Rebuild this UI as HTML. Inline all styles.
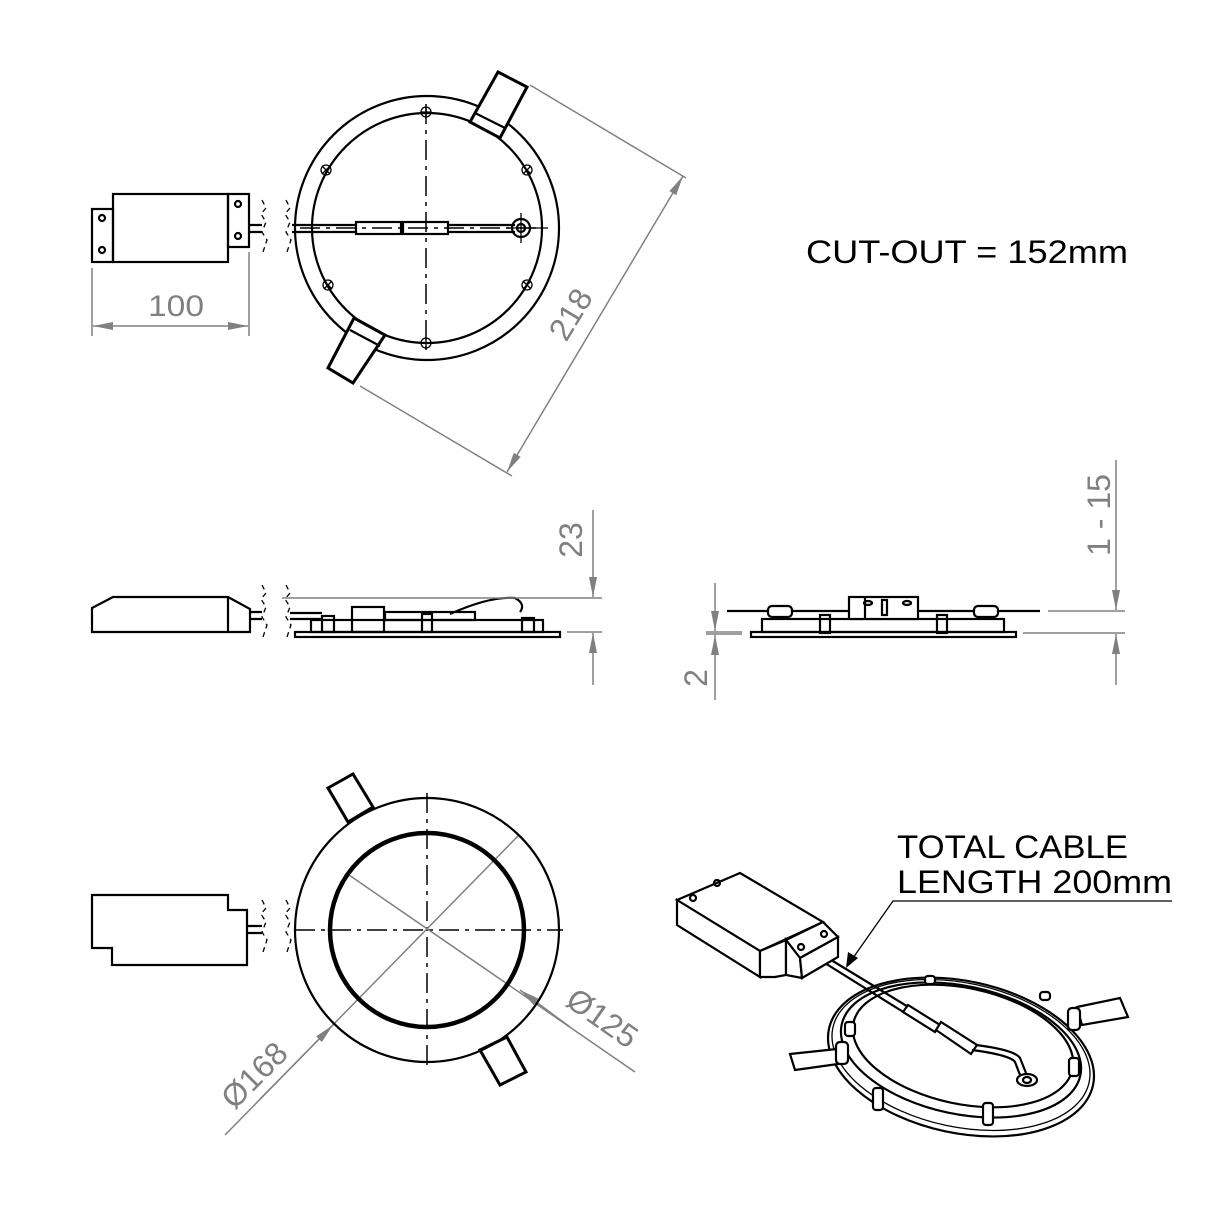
<!DOCTYPE html>
<html><head><meta charset="utf-8"><style>
html,body{margin:0;padding:0;background:#fff;}
svg{display:block}
.k{stroke:#000;fill:none;stroke-width:2.2}
.kf{stroke:#000;fill:#fff;stroke-width:2.2}
.t{stroke:#000;fill:none;stroke-width:1.3}
.g{stroke:#808080;fill:none;stroke-width:1.5}
.gt{fill:#808080;font-family:"Liberation Sans",sans-serif;font-weight:normal}
.bt{fill:#000;font-family:"Liberation Sans",sans-serif}
.d{stroke:#000;fill:none;stroke-width:1.5;stroke-dasharray:20 6 4 6}
</style></head><body>
<svg width="1220" height="1220" viewBox="0 0 1220 1220" xmlns="http://www.w3.org/2000/svg">
<defs>
<marker id="ar" viewBox="0 0 20 8" refX="20" refY="4" markerWidth="20" markerHeight="8" orient="auto" markerUnits="userSpaceOnUse"><path d="M0,0 L20,4 L0,8 z" fill="#808080"/></marker>
</defs>

<!-- ===== TOP VIEW ===== -->
<rect class="k" x="113" y="194" width="115" height="68"/>
<rect class="k" x="92" y="209" width="21" height="53"/>
<rect class="k" x="228" y="194" width="21" height="53"/>
<circle class="k" cx="102" cy="218" r="3"/><circle class="k" cx="102" cy="250" r="3"/>
<circle class="k" cx="238" cy="204" r="3"/><circle class="k" cx="238" cy="236" r="3"/>
<path class="k" d="M249,225 H262 M249,232 H262"/>
<path class="t" d="M262,200 l4,8 -5,6 5,8 -4,10 5,8 -4,12" stroke-dasharray="5 4"/>
<path class="t" d="M286,200 l4,8 -5,6 5,8 -4,10 5,8 -4,12" stroke-dasharray="5 4"/>
<path class="g" d="M92,268 V336 M249,252 V336"/>
<line class="g" x1="170" y1="326" x2="93" y2="326" marker-end="url(#ar)"/>
<line class="g" x1="170" y1="326" x2="248" y2="326" marker-end="url(#ar)"/>
<text class="gt" x="148" y="316" font-size="30" textLength="56" lengthAdjust="spacingAndGlyphs">100</text>

<circle class="k" cx="427" cy="228" r="132"/>
<circle class="k" cx="427" cy="228" r="115"/>
<line class="d" x1="426" y1="104" x2="426" y2="352"/>
<path class="k" d="M292,225 H356 M292,232 H356 M448,225 H515 M448,232 H515"/>
<rect class="k" x="356" y="222" width="45" height="12"/>
<rect class="k" x="403" y="222" width="45" height="12"/>
<line class="d" x1="300" y1="228" x2="540" y2="228"/>
<circle class="k" cx="521" cy="228" r="9"/><circle class="k" cx="521" cy="228" r="4"/>
<path class="t" d="M521,213 V243 M506,228 H548"/>
<g class="t">
<circle cx="426" cy="112" r="5"/><path d="M421,112 h10 M426,107 v10"/>
<circle cx="426" cy="343" r="5"/><path d="M421,343 h10 M426,338 v10"/>
<circle cx="326" cy="170" r="5"/><path d="M322,166 l8,8 M330,166 l-8,8"/>
<circle cx="527" cy="170" r="5"/><path d="M523,166 l8,8 M531,166 l-8,8"/>
<circle cx="328" cy="285" r="5"/><path d="M324,281 l8,8 M332,281 l-8,8"/>
<circle cx="527" cy="285" r="5"/><path d="M523,281 l8,8 M531,281 l-8,8"/>
</g>
<polygon class="kf" points="498,72 527,87 500,138 470,122" style="stroke-width:3"/>
<path class="k" d="M475,113 L505,128"/>
<polygon class="kf" points="354,318 385,335 353,383 328,368" style="stroke-width:3"/>
<path class="k" d="M350,330 L380,346"/>

<path class="g" d="M530,85 L686,178 M360,386 L512,476"/>
<line class="g" x1="595" y1="324" x2="683" y2="176" marker-end="url(#ar)"/>
<line class="g" x1="595" y1="324" x2="507" y2="472" marker-end="url(#ar)"/>
<text class="gt" font-size="32" text-anchor="middle" transform="translate(580,320) rotate(-59)">218</text>

<text class="bt" x="806" y="263" font-size="32" textLength="322" lengthAdjust="spacingAndGlyphs">CUT-OUT = 152mm</text>

<!-- ===== SIDE VIEW LEFT ===== -->
<polygon class="k" points="92,608 113,597 228,597 250,609 250,632 92,632"/>
<line class="k" x1="228" y1="597" x2="228" y2="632"/>
<path class="k" d="M250,612 H262 M250,619 H262"/>
<path class="t" d="M262,585 l4,8 -5,6 5,8 -4,10 5,8 -4,12" stroke-dasharray="5 4"/>
<path class="t" d="M286,585 l4,8 -5,6 5,8 -4,10 5,8 -4,12" stroke-dasharray="5 4"/>
<rect class="k" x="295" y="632" width="265" height="5"/>
<path class="k" d="M290,613 H322 M290,619 H322"/>
<rect class="k" x="311" y="620" width="232" height="12"/>
<rect class="k" x="322" y="616" width="12" height="16"/>
<rect class="k" x="352" y="607" width="32" height="25"/>
<rect class="k" x="385" y="612" width="90" height="8"/>
<rect class="k" x="422" y="614" width="10" height="18"/>
<path class="k" d="M450,614 Q490,596 515,598 Q526,604 520,612"/>
<rect class="k" x="522" y="618" width="12" height="14"/>
<path class="g" d="M282,598 H602 M567,632 H602"/>
<line class="g" x1="593" y1="510" x2="593" y2="597" marker-end="url(#ar)"/>
<line class="g" x1="593" y1="685" x2="593" y2="633" marker-end="url(#ar)"/>
<text class="gt" font-size="32" text-anchor="middle" transform="translate(582,540) rotate(-90)">23</text>

<!-- ===== SIDE VIEW RIGHT ===== -->
<rect class="k" x="751" y="632" width="265" height="5"/>
<rect class="k" x="762" y="619" width="242" height="13"/>
<path class="k" d="M727,611 H1040"/>
<rect class="kf" x="768" y="606" width="24" height="11" rx="4"/>
<rect class="kf" x="974" y="606" width="24" height="11" rx="4"/>
<rect class="kf" x="849" y="597" width="69" height="22"/>
<line class="k" x1="865" y1="597" x2="865" y2="619"/>
<ellipse class="k" cx="868" cy="603" rx="4" ry="2"/><ellipse class="k" cx="907" cy="603" rx="4" ry="2"/>
<rect class="k" x="882" y="600" width="5" height="15"/>
<rect class="k" x="820" y="615" width="10" height="18"/>
<rect class="k" x="937" y="615" width="10" height="18"/>
<path class="g" d="M1048,611 H1125 M1023,633 H1125"/>
<line class="g" x1="1116" y1="460" x2="1116" y2="610" marker-end="url(#ar)"/>
<line class="g" x1="1116" y1="685" x2="1116" y2="634" marker-end="url(#ar)"/>
<text class="gt" font-size="32" text-anchor="middle" transform="translate(1110,515) rotate(-90)">1 - 15</text>
<path class="g" d="M706,632 H742 M706,634 H742"/>
<line class="g" x1="715" y1="583" x2="715" y2="631" marker-end="url(#ar)"/>
<line class="g" x1="715" y1="700" x2="715" y2="635" marker-end="url(#ar)"/>
<text class="gt" font-size="32" text-anchor="middle" transform="translate(707,678) rotate(-90)">2</text>

<!-- ===== BOTTOM VIEW ===== -->
<polygon class="k" points="92,895 228,895 228,910 247,910 247,965 112,965 112,948 92,948"/>
<path class="k" d="M247,926 H262 M247,933 H262"/>
<path class="t" d="M262,900 l4,8 -5,6 5,8 -4,10 5,8 -4,12" stroke-dasharray="5 4"/>
<path class="t" d="M286,900 l4,8 -5,6 5,8 -4,10 5,8 -4,12" stroke-dasharray="5 4"/>
<line class="d" x1="427" y1="793" x2="427" y2="1065"/>
<line class="d" x1="295" y1="930" x2="563" y2="930"/>
<line class="g" x1="518" y1="836" x2="225" y2="1135"/>
<line class="g" x1="349" y1="875" x2="635" y2="1072"/>
<line class="g" x1="260" y1="1099" x2="333" y2="1025" marker-end="url(#ar)"/>
<line class="g" x1="570" y1="1027" x2="520" y2="990" marker-end="url(#ar)"/>
<polygon class="kf" points="328,788 353,774 373,807 348,822" style="stroke-width:3"/>
<polygon class="kf" points="480,1050 507,1037 526,1072 500,1085" style="stroke-width:3"/>
<circle class="k" cx="427" cy="930" r="132"/>
<circle class="k" cx="427" cy="930" r="97" style="stroke-width:4.5"/>
<text class="gt" font-size="32" text-anchor="middle" transform="translate(262,1083) rotate(-45)">Ø168</text>
<text class="gt" font-size="32" text-anchor="middle" transform="translate(596,1027) rotate(35)">Ø125</text>

<!-- ===== ISOMETRIC ===== -->
<text class="bt" x="897" y="858" font-size="32" textLength="231" lengthAdjust="spacingAndGlyphs">TOTAL CABLE</text>
<text class="bt" x="897" y="893" font-size="32" textLength="275" lengthAdjust="spacingAndGlyphs">LENGTH 200mm</text>
<path class="t" d="M1172,901 H893 L853,958"/>
<polygon points="846,968 848,952 858,958" fill="#000"/>
<ellipse class="k" cx="961" cy="1057" rx="135" ry="76" transform="rotate(12 961 1057)"/>
<ellipse class="t" cx="961" cy="1055" rx="131" ry="72" transform="rotate(12 961 1055)"/>
<ellipse class="k" cx="961" cy="1050" rx="122" ry="64" transform="rotate(12 961 1050)"/>
<ellipse class="k" cx="963" cy="1046" rx="112" ry="58" transform="rotate(12 963 1046)"/>
<polygon class="kf" points="790,1054 837,1049 838,1064 795,1070"/>
<polygon class="kf" points="1077,1007 1120,998 1128,1017 1082,1025"/>
<rect class="kf" x="836" y="1042" width="12" height="22" rx="4"/>
<rect class="kf" x="1068" y="1008" width="12" height="22" rx="4"/>
<g class="kf">
<rect x="925" y="976" width="10" height="8" rx="3"/>
<rect x="1040" y="992" width="10" height="8" rx="3"/>
<rect x="845" y="1022" width="10" height="14" rx="3"/>
<rect x="1069" y="1058" width="10" height="18" rx="3"/>
<rect x="873" y="1088" width="10" height="22" rx="3"/>
<rect x="983" y="1103" width="10" height="22" rx="3"/>
</g>
<path class="k" d="M812,955 L905,1013 M818,952 L910,1008"/>
<polygon class="kf" points="903,1012 908,1005 940,1025 935,1032"/>
<polygon class="kf" points="936,1030 941,1022 977,1045 971,1054"/>
<path class="k" d="M972,1050 Q1010,1055 1015,1062 L1020,1075 M976,1045 Q1015,1050 1020,1058 L1026,1073"/>
<ellipse class="k" cx="1027" cy="1080" rx="10" ry="6"/>
<ellipse class="k" cx="1027" cy="1080" rx="4" ry="3"/>
<polygon class="kf" points="677,900 740,873 823,922 760,951"/>
<polygon class="kf" points="677,900 760,951 760,977 677,925"/>
<polygon class="kf" points="760,951 786,940 786,975 775,977 760,977"/>
<polygon class="kf" points="786,940 823,922 838,937 800,958"/>
<polygon class="kf" points="786,940 800,958 802,978 786,975"/>
<polygon class="kf" points="800,958 838,937 838,957 802,978"/>
<circle class="k" cx="801" cy="947" r="3"/><circle class="k" cx="824" cy="934" r="3"/>
<circle class="k" cx="717" cy="883" r="3"/><circle class="k" cx="693" cy="898" r="3"/>
</svg>
</body></html>
